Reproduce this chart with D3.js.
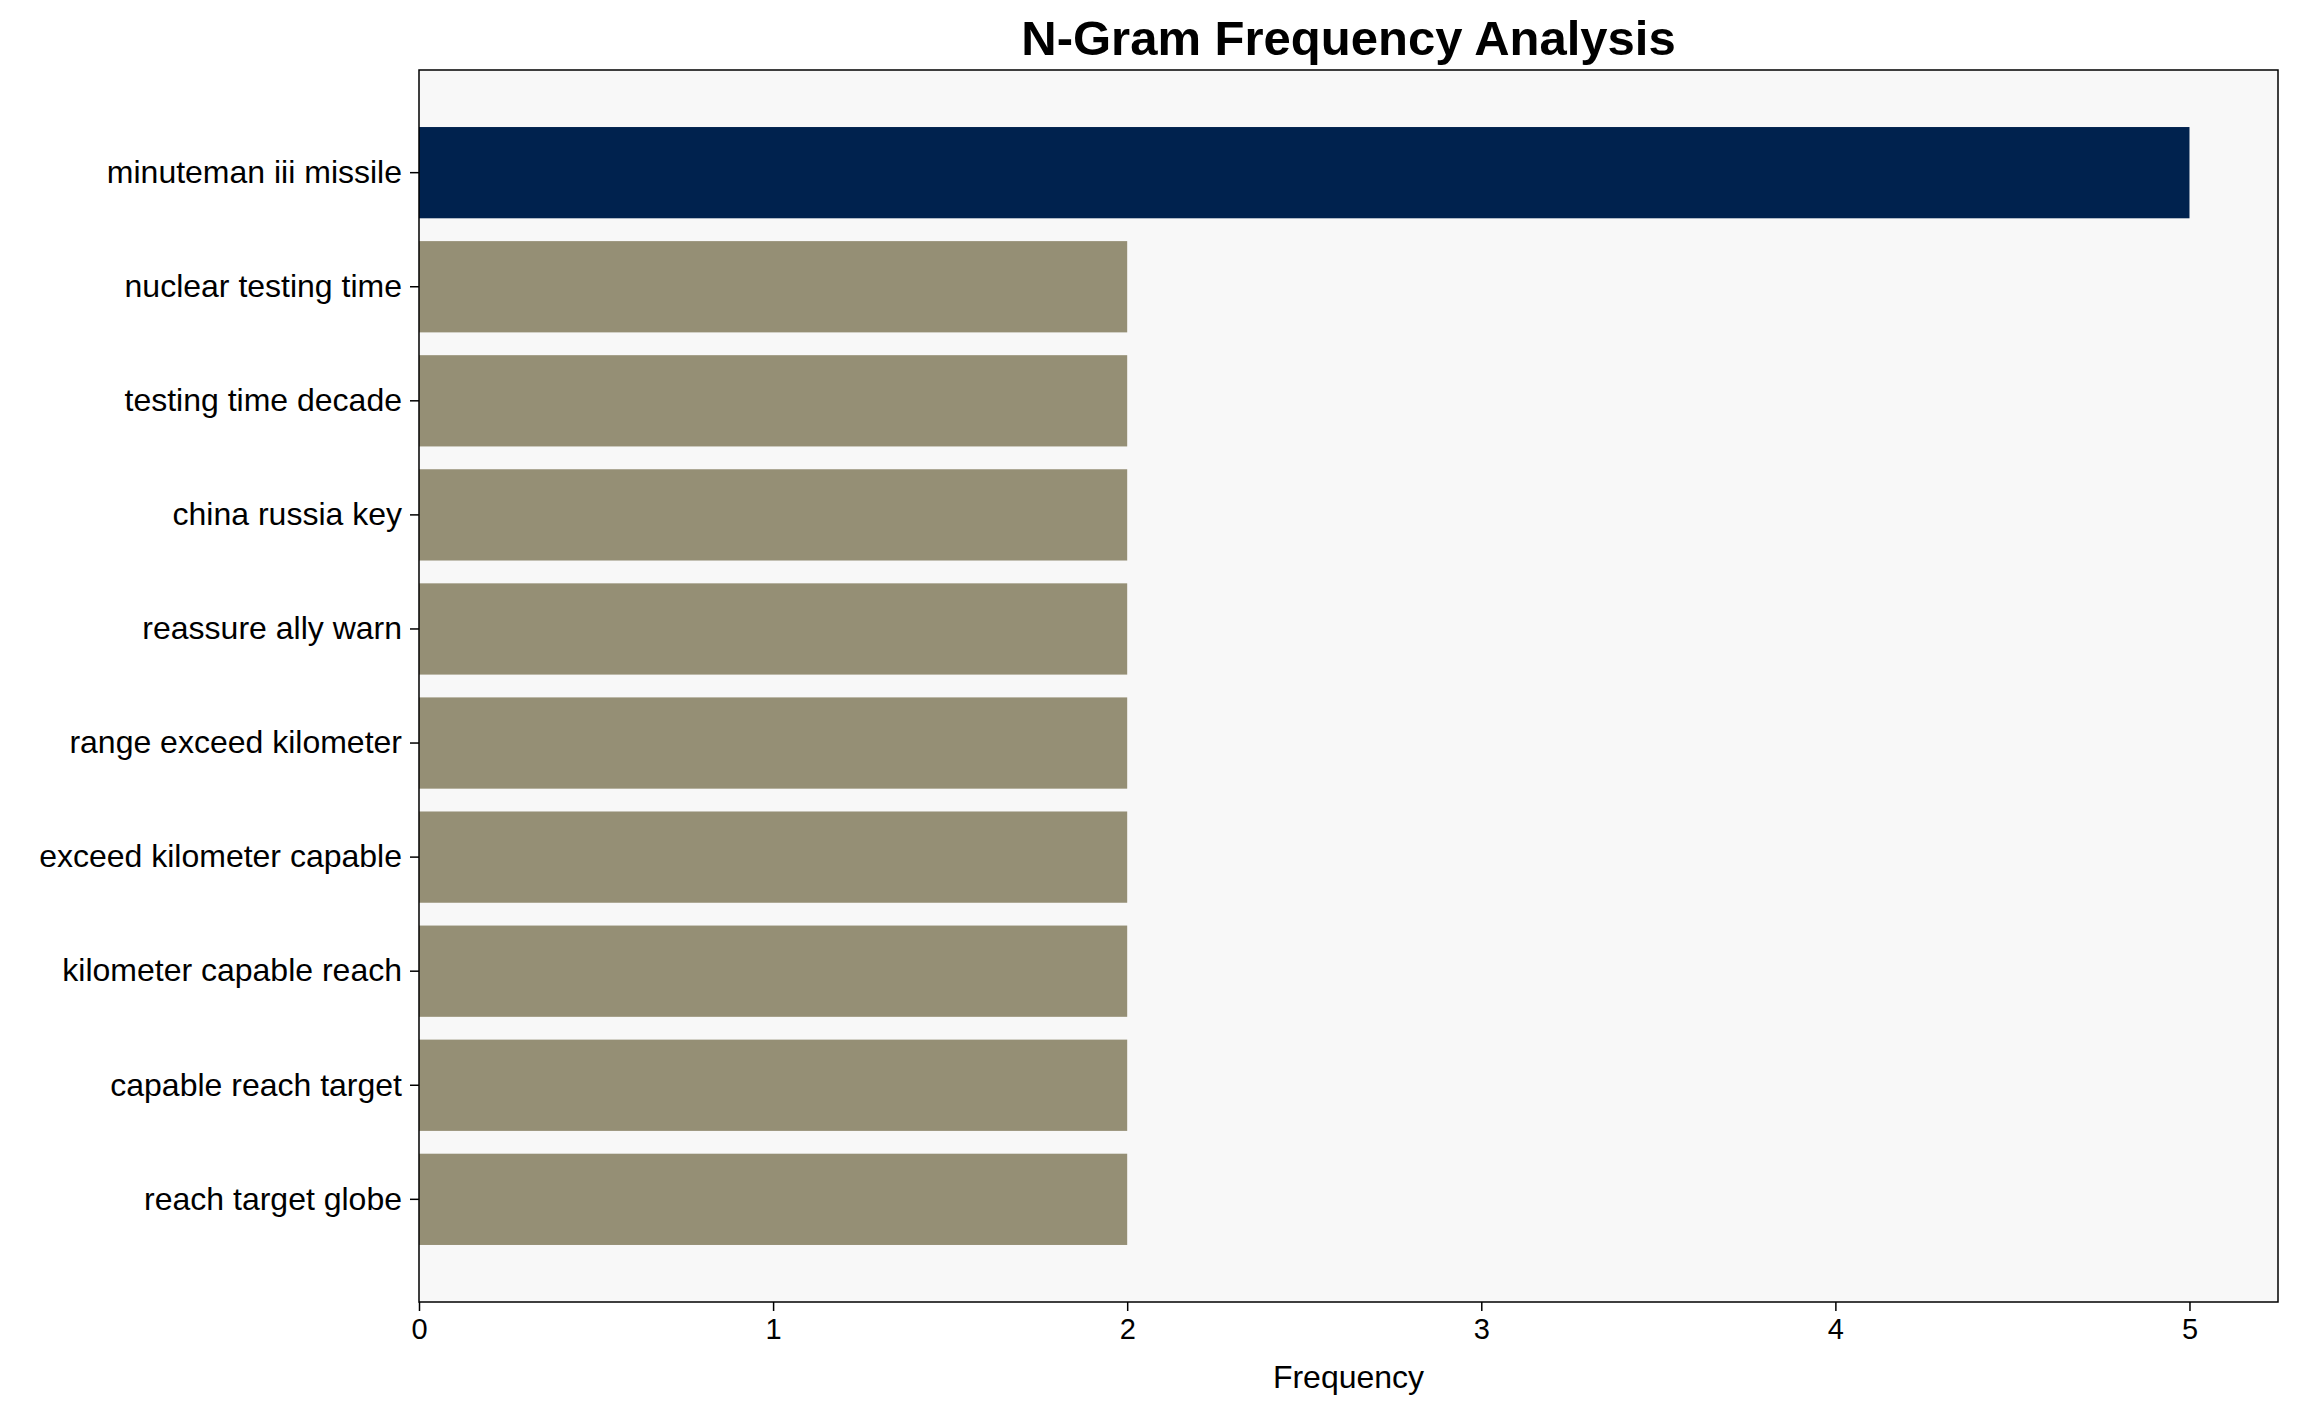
<!DOCTYPE html>
<html><head><meta charset="utf-8">
<script src="https://cdn.jsdelivr.net/npm/d3@7"></script>
<style>body{margin:0;background:#fff}</style>
</head><body><svg id="c" width="2297" height="1414"></svg>
<script>
const categories = ["minuteman iii missile","nuclear testing time","testing time decade","china russia key","reassure ally warn","range exceed kilometer","exceed kilometer capable","kilometer capable reach","capable reach target","reach target globe"];
const values = [5,2,2,2,2,2,2,2,2,2];
const xTicks = [0,1,2,3,4,5];
const colors = ["#00224e","#958f75"];

const svg = d3.select("#c");
const font = "Liberation Sans, Arial, sans-serif";
const m = {l:419, r:2278, t:70, b:1302};
const x = d3.scaleLinear().domain([0,5.25]).range([m.l,m.r]);
const y = d3.scaleBand().domain(categories).range([m.t,m.b]).paddingInner(0.2).paddingOuter(0.5);

svg.append("rect").attr("x",m.l).attr("y",m.t).attr("width",m.r-m.l).attr("height",m.b-m.t).attr("fill","#f8f8f8");
svg.selectAll(".bar").data(categories).enter().append("rect")
  .attr("x",x(0)).attr("y",d=>y(d)).attr("height",y.bandwidth())
  .attr("width",(d,i)=>x(values[i])-x(0)).attr("fill",(d,i)=>i===0?colors[0]:colors[1]);
svg.append("rect").attr("x",m.l).attr("y",m.t).attr("width",m.r-m.l).attr("height",m.b-m.t).attr("fill","none").attr("stroke","#000").attr("stroke-width",1.5);

const xa = svg.append("g").attr("transform",`translate(0,${m.b})`).call(d3.axisBottom(x).tickValues(xTicks).tickFormat(d3.format("d")).tickSize(9).tickPadding(7));
const ya = svg.append("g").attr("transform",`translate(${m.l},0)`).call(d3.axisLeft(y).tickSize(9).tickPadding(8));
[xa,ya].forEach(a=>{a.select(".domain").remove();a.selectAll("text").attr("font-family",font).attr("fill","#000");a.selectAll("line").attr("stroke","#000").attr("stroke-width",1.5);});
xa.selectAll("text").attr("font-size",29);
ya.selectAll("text").attr("font-size",32);

svg.append("text").attr("x",(m.l+m.r)/2).attr("y",1388).attr("text-anchor","middle").attr("font-family",font).attr("font-size",32).text("Frequency");
svg.append("text").attr("x",(m.l+m.r)/2).attr("y",55).attr("text-anchor","middle").attr("font-family",font).attr("font-size",49).attr("font-weight","bold").text("N-Gram Frequency Analysis");
</script></body></html>
